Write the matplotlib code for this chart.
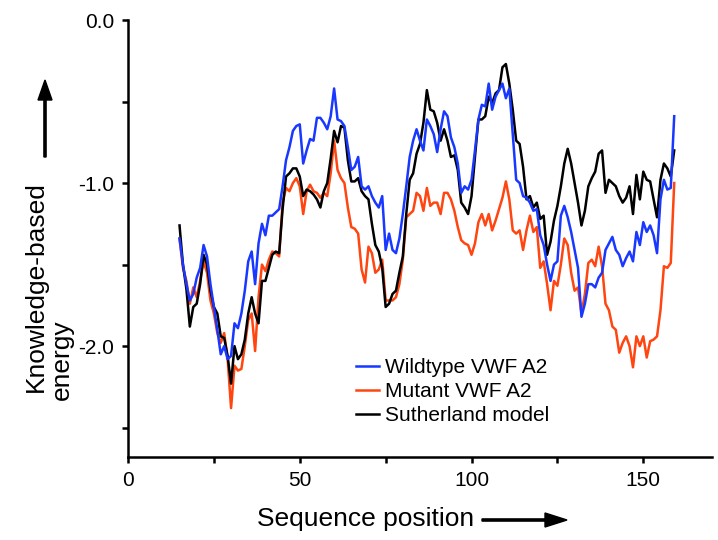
import matplotlib
matplotlib.use("Agg")
import matplotlib.pyplot as plt
import numpy as np

plt.rcParams['font.family'] = ['Liberation Sans', 'DejaVu Sans']

positions = list(range(15, 160))

wildtype = [
    -1.34, -1.50, -1.62, -1.72, -1.68, -1.58, -1.52, -1.38, -1.45, -1.62,   # 15-24
    -1.76, -1.90, -2.05, -2.00, -2.08, -2.06, -1.86, -1.89, -1.80, -1.66,   # 25-34
    -1.48, -1.42, -1.62, -1.37, -1.25, -1.32, -1.20, -1.20, -1.18, -1.16,   # 35-44
    -1.02, -0.86, -0.78, -0.68, -0.65, -0.64, -0.88, -0.80, -0.73, -0.74,   # 45-54
    -0.60, -0.60, -0.63, -0.67, -0.59, -0.42, -0.61, -0.62, -0.65, -0.78,   # 55-64
    -0.92, -0.90, -0.84, -1.02, -1.04, -1.02, -1.08, -1.12, -1.15, -1.08,   # 65-74
    -1.41, -1.31, -1.41, -1.43, -1.34, -1.19, -1.02, -0.84, -0.74, -0.67,   # 75-84
    -0.74, -0.80, -0.61, -0.65, -0.70, -0.81, -0.67, -0.56, -0.59, -0.72,   # 85-94
    -0.78, -0.88, -1.06, -1.02, -1.04, -0.98, -0.80, -0.61, -0.52, -0.53,   # 95-104
    -0.39, -0.55, -0.47, -0.43, -0.39, -0.48, -0.42, -0.70, -0.98, -1.00,   # 105-114
    -1.08, -1.09, -1.12, -1.17, -1.16, -1.32, -1.38, -1.50, -1.60, -1.50,   # 115-124
    -1.48, -1.20, -1.14, -1.21, -1.30, -1.41, -1.52, -1.82, -1.74, -1.62,   # 125-134
    -1.62, -1.64, -1.58, -1.55, -1.41, -1.37, -1.33, -1.41, -1.44, -1.51,   # 135-144
    -1.46, -1.42, -1.48, -1.30, -1.38, -1.24, -1.30, -1.26, -1.32, -1.43,   # 145-154
    -1.10, -0.98, -1.04, -1.03, -0.59,                                      # 155-159
]

mutant = [
    -1.34, -1.52, -1.60, -1.74, -1.64, -1.70, -1.60, -1.48, -1.55, -1.72,   # 15-24
    -1.80, -1.92, -1.98, -1.92, -2.08, -2.38, -2.12, -2.15, -2.14, -2.00,   # 25-34
    -1.84, -1.80, -2.03, -1.70, -1.50, -1.54, -1.47, -1.42, -1.43, -1.45,   # 35-44
    -1.12, -1.03, -1.05, -1.00, -0.97, -1.02, -1.19, -1.05, -1.01, -1.05,   # 45-54
    -1.06, -1.09, -1.06, -1.08, -0.94, -0.74, -0.92, -0.97, -1.00, -1.15,   # 55-64
    -1.27, -1.28, -1.31, -1.53, -1.61, -1.39, -1.43, -1.55, -1.53, -1.47,   # 65-74
    -1.72, -1.72, -1.72, -1.70, -1.62, -1.47, -1.21, -1.19, -1.17, -1.06,   # 75-84
    -1.08, -1.17, -1.03, -1.14, -1.12, -1.12, -1.19, -1.06, -1.06, -1.10,   # 85-94
    -1.17, -1.27, -1.35, -1.37, -1.38, -1.44, -1.37, -1.24, -1.19, -1.26,   # 95-104
    -1.19, -1.29, -1.23, -1.16, -1.09, -0.99, -1.10, -1.29, -1.31, -1.29,   # 105-114
    -1.41, -1.29, -1.20, -1.30, -1.27, -1.52, -1.48, -1.62, -1.78, -1.60,   # 115-124
    -1.63, -1.50, -1.34, -1.38, -1.55, -1.66, -1.64, -1.80, -1.68, -1.49,   # 125-134
    -1.47, -1.51, -1.39, -1.51, -1.74, -1.78, -1.88, -1.90, -2.04, -1.98,   # 135-144
    -1.94, -2.00, -2.13, -1.94, -2.00, -1.94, -2.07, -1.97, -1.96, -1.94,   # 145-154
    -1.78, -1.51, -1.52, -1.49, -1.00,                                      # 155-159
]

sutherland = [
    -1.26, -1.50, -1.65, -1.88, -1.76, -1.74, -1.62, -1.44, -1.50, -1.66,   # 15-24
    -1.76, -1.80, -1.94, -1.95, -2.06, -2.23, -2.00, -2.08, -2.05, -1.96,   # 25-34
    -1.80, -1.70, -1.80, -1.86, -1.60, -1.60, -1.52, -1.44, -1.42, -1.43,   # 35-44
    -1.16, -0.96, -0.94, -0.91, -0.91, -0.96, -1.08, -1.04, -1.05, -1.07,   # 45-54
    -1.10, -1.15, -1.05, -1.00, -0.85, -0.68, -0.75, -0.65, -0.66, -0.86,   # 55-64
    -0.99, -0.99, -0.97, -1.05, -1.08, -1.10, -1.25, -1.38, -1.42, -1.52,   # 65-74
    -1.76, -1.74, -1.68, -1.66, -1.55, -1.45, -1.19, -0.98, -0.94, -0.82,   # 75-84
    -0.76, -0.63, -0.43, -0.55, -0.56, -0.63, -0.74, -0.67, -0.74, -0.84,   # 85-94
    -0.83, -0.92, -1.12, -1.15, -1.19, -1.08, -0.84, -0.61, -0.61, -0.59,   # 95-104
    -0.47, -0.51, -0.45, -0.43, -0.29, -0.27, -0.39, -0.55, -0.74, -0.76,   # 105-114
    -0.90, -1.10, -1.08, -1.15, -1.12, -1.22, -1.20, -1.44, -1.36, -1.23,   # 115-124
    -1.14, -1.02, -0.88, -0.79, -0.88, -1.00, -1.12, -1.26, -1.17, -1.02,   # 125-134
    -0.97, -0.93, -0.82, -0.80, -1.06, -0.98, -1.00, -1.02, -1.08, -1.12,   # 135-144
    -1.09, -1.02, -1.19, -0.95, -1.10, -0.93, -0.98, -0.99, -1.10, -1.21,   # 145-154
    -0.98, -0.88, -0.91, -0.96, -0.80,                                      # 155-159
]

series_labels = ["Wildtype VWF A2", "Mutant VWF A2", "Sutherland model"]
x_ticks = [0, 50, 100, 150]
y_ticks = [0.0, -1.0, -2.0]
y_tick_labels = ["0.0", "-1.0", "-2.0"]

W, H = 718, 540
fig = plt.figure(figsize=(W / 100, H / 100), dpi=100)
ax = fig.add_axes([128 / W, (H - 457) / H, (712 - 128) / W, (457 - 20) / H])

ax.plot(positions, wildtype, color="#1838ff", lw=1.8, label=series_labels[0], zorder=3)
ax.plot(positions, mutant, color="#ff4510", lw=1.8, label=series_labels[1], zorder=2)
ax.plot(positions, sutherland, color="black", lw=1.8, label=series_labels[2], zorder=2.5)

ax.set_xlim(0, 170)
ax.set_ylim(-2.68, 0.0)
for s in ["top", "right"]:
    ax.spines[s].set_visible(False)
for s in ["left", "bottom"]:
    ax.spines[s].set_linewidth(1.8)

ax.set_xticks(x_ticks)
ax.set_xticks([25, 75, 125], minor=True)
ax.set_yticks(y_ticks)
ax.set_yticklabels(y_tick_labels)
ax.set_yticks([-0.5, -1.5, -2.5], minor=True)
ax.tick_params(which="both", direction="out", length=4, width=1.8, labelsize=15, pad=6)

# legend
handles, labels = ax.get_legend_handles_labels()
ax.legend(handles, labels,
          loc="upper left", bbox_to_anchor=((356 - 128) / (712 - 128), (457 - 358) / (457 - 20)),
          frameon=False, fontsize=15, handlelength=1.1, handletextpad=0.3,
          labelspacing=0.24, borderaxespad=0, borderpad=0)

# y label with arrow
fig.text(36 / W, (H - 392) / H, "Knowledge-based", rotation=90, ha="center", va="bottom", fontsize=19)
fig.text(62 / W, (H - 400) / H, "energy", rotation=90, ha="center", va="bottom", fontsize=19)
fig.patches.append(matplotlib.patches.FancyArrow(
    45 / W, (H - 157) / H, 0, (157 - 80) / H, width=2.2 / W, head_width=14 / W,
    head_length=20 / H, length_includes_head=True, color="black", transform=fig.transFigure))

# x label with arrow
fig.text(366 / W, (H - 519) / H, "Sequence position", ha="center", va="center", fontsize=19)
fig.patches.append(matplotlib.patches.FancyArrow(
    482 / W, (H - 520) / H, (567 - 482) / W, 0, width=2.2 / H, head_width=14 / H,
    head_length=22 / W, length_includes_head=True, color="black", transform=fig.transFigure))

fig.savefig("out.png", dpi=100)
